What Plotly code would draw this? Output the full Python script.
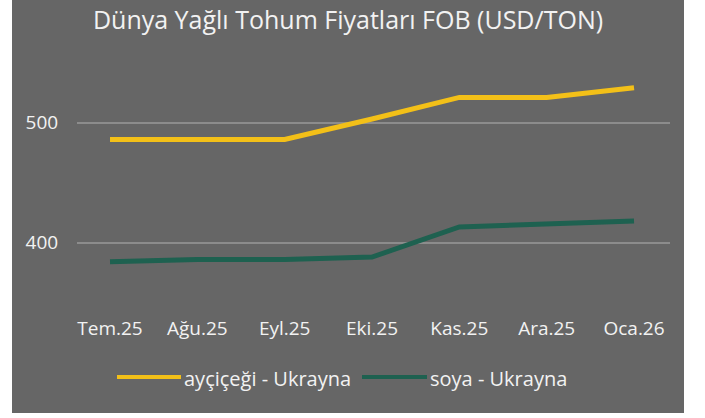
import plotly.graph_objects as go

# Monthly FOB prices, USD/ton
months = ["Tem.25", "Ağu.25", "Eyl.25", "Eki.25", "Kas.25", "Ara.25", "Oca.26"]
sunflower_ukraine = [486, 486, 486, 503, 521, 521, 529]
soy_ukraine = [384, 386, 386, 388, 413, 416, 418]

series_names = ["ayçiçeği - Ukrayna", "soya - Ukrayna"]
series_colors = ["#F3C018", "#1E6150"]
y_ticks = [400, 500]

W, H = 705, 418
ML, MR, MT, MB = 77, 35, 45, 113
PW, PH = W - ML - MR, H - MT - MB
BG = "#666666"
TXT = "#F2F2F2"
FONT = "Open Sans"


def px_x(p):
    return (p - ML) / PW


def px_y(p):
    return (H - MB - p) / PH


fig = go.Figure()
for name, vals, col in zip(series_names, [sunflower_ukraine, soy_ukraine], series_colors):
    fig.add_trace(go.Scatter(
        x=list(range(len(months))), y=vals, name=name, mode="lines",
        line=dict(color=col, width=5), showlegend=False,
    ))

shapes = [
    # chart area background
    dict(type="rect", xref="paper", yref="paper", layer="below",
         x0=px_x(12), x1=px_x(684), y0=px_y(413), y1=px_y(0),
         fillcolor=BG, line=dict(width=0)),
]
annotations = []

# legend drawn below the category axis
legend_items = [(117, 181, 182), (362, 427, 428)]
for (lx0, lx1, tx), name, col in zip(legend_items, series_names, series_colors):
    shapes.append(dict(type="line", xref="paper", yref="paper",
                       x0=px_x(lx0), x1=px_x(lx1), y0=px_y(377), y1=px_y(377),
                       line=dict(color=col, width=4)))
    annotations.append(dict(text=name, xref="paper", yref="paper",
                            x=px_x(tx), y=px_y(379), xanchor="left", yanchor="middle",
                            showarrow=False, font=dict(family=FONT, size=20, color=TXT)))

fig.update_layout(
    width=W, height=H,
    margin=dict(l=ML, r=MR, t=MT, b=MB),
    paper_bgcolor="white", plot_bgcolor="rgba(0,0,0,0)",
    title=dict(text="Dünya Yağlı Tohum Fiyatları FOB (USD/TON)",
               x=px_x(348), xref="paper", xanchor="center",
               y=1 - 20 / H, yanchor="middle",
               font=dict(family=FONT, size=25, color=TXT)),
    font=dict(family=FONT, color=TXT),
    shapes=shapes, annotations=annotations,
    xaxis=dict(tickmode="array", tickvals=list(range(len(months))), ticktext=months,
               range=[-0.378, 6.412], showgrid=False, zeroline=False, showline=False,
               ticks="outside", ticklen=6, tickcolor="rgba(0,0,0,0)",
               tickfont=dict(family=FONT, size=19, color=TXT)),
    yaxis=dict(tickmode="array", tickvals=y_ticks, range=[348, 564.7],
               showgrid=True, gridcolor="#8C8C8C", gridwidth=1.5,
               zeroline=False, showline=False,
               ticks="outside", ticklen=14, tickcolor="rgba(0,0,0,0)",
               tickfont=dict(family=FONT, size=19, color=TXT)),
)

fig.write_html("out.html")
